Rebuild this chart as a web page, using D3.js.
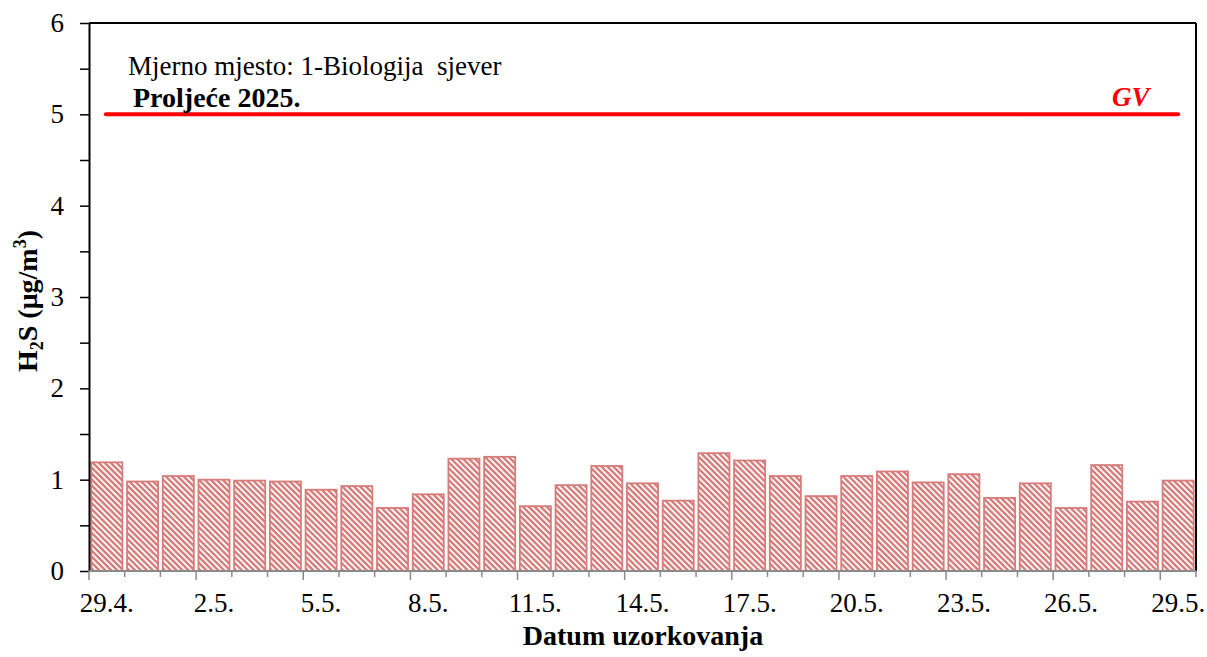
<!DOCTYPE html>
<html>
<head>
<meta charset="utf-8">
<script src="https://cdnjs.cloudflare.com/ajax/libs/d3/7.8.5/d3.min.js"></script>
<style>
  body { margin: 0; background: #fff; }
  svg text { font-family: "Liberation Serif", "DejaVu Serif", serif; }
</style>
</head>
<body>
<svg id="chart" width="1207" height="657"></svg>
<script>
// sampling days, 29.4. - 29.5.
var dates = ["29.4.", "30.4.", "1.5.", "2.5.", "3.5.", "4.5.", "5.5.", "6.5.", "7.5.", "8.5.",
  "9.5.", "10.5.", "11.5.", "12.5.", "13.5.", "14.5.", "15.5.", "16.5.", "17.5.", "18.5.",
  "19.5.", "20.5.", "21.5.", "22.5.", "23.5.", "24.5.", "25.5.", "26.5.", "27.5.", "28.5.", "29.5."];
var h2s = [1.19, 0.98, 1.04, 1.00, 0.99, 0.98, 0.89, 0.93, 0.69, 0.84,
  1.23, 1.25, 0.71, 0.94, 1.15, 0.96, 0.77, 1.29, 1.21, 1.04,
  0.82, 1.04, 1.09, 0.97, 1.06, 0.80, 0.96, 0.69, 1.16, 0.76, 0.99];
var gv = 5;
var yTicks = [0, 1, 2, 3, 4, 5, 6];
var shownDates = ["29.4.", "2.5.", "5.5.", "8.5.", "11.5.", "14.5.", "17.5.", "20.5.", "23.5.", "26.5.", "29.5."];

// plot box (window.top is taken, so own names)
var pLeft = 89, pRight = 1196, pTop = 23, pBottom = 571;
var barColor = "#d67d7b";

var svg = d3.select("#chart");

var x = d3.scaleBand().domain(dates).range([pLeft, pRight]).paddingInner(0.13).paddingOuter(0.065);
var y = d3.scaleLinear().domain([0, 6]).range([pBottom, pTop]);

// hatch fill
var defs = svg.append("defs");
var pat = defs.append("pattern")
  .attr("id", "hatch")
  .attr("patternUnits", "userSpaceOnUse")
  .attr("width", 4.2).attr("height", 4.2)
  .attr("patternTransform", "rotate(45)");
pat.append("rect").attr("width", 4.2).attr("height", 4.2).attr("fill", "#fff");
pat.append("rect").attr("width", 4.2).attr("height", 2.4).attr("fill", barColor);

// bars
svg.append("g").selectAll("rect")
  .data(h2s)
  .enter().append("rect")
  .attr("x", function(d, i) { return x(dates[i]); })
  .attr("y", function(d) { return y(d); })
  .attr("width", x.bandwidth())
  .attr("height", function(d) { return pBottom - y(d); })
  .attr("fill", "url(#hatch)")
  .attr("stroke", barColor)
  .attr("stroke-width", 1.8);

// frame top and right
svg.append("line").attr("x1", pLeft).attr("x2", pRight).attr("y1", pTop).attr("y2", pTop)
  .attr("stroke", "#000").attr("stroke-width", 2);
svg.append("line").attr("x1", pRight).attr("x2", pRight).attr("y1", pTop).attr("y2", pBottom)
  .attr("stroke", "#000").attr("stroke-width", 2);

// y axis with half-step minor ticks
var yAxis = svg.append("g").attr("transform", "translate(" + pLeft + ",0)")
  .call(d3.axisLeft(y).tickValues(d3.range(0, 6.01, 0.5)).tickSize(9).tickSizeOuter(0).tickPadding(16)
    .tickFormat(function(d) { return yTicks.indexOf(d) >= 0 ? d : ""; }));
yAxis.select(".domain").attr("stroke", "#000").attr("stroke-width", 2);
yAxis.selectAll(".tick line").attr("stroke", "#000").attr("stroke-width", 1.5);
yAxis.selectAll("text").attr("font-size", 27).attr("fill", "#000");

// x axis: ticks on band boundaries, long every third
var step = x.step();
var bounds = d3.range(dates.length + 1);
var xg = svg.append("g");
xg.append("line").attr("x1", pLeft).attr("x2", pRight).attr("y1", pBottom).attr("y2", pBottom)
  .attr("stroke", "#8a8a8a").attr("stroke-width", 2);
xg.selectAll(".xt").data(bounds).enter().append("line")
  .attr("x1", function(d) { return pLeft + d * step; })
  .attr("x2", function(d) { return pLeft + d * step; })
  .attr("y1", pBottom)
  .attr("y2", function(d) { return pBottom + (d % 3 === 0 ? 9 : 6); })
  .attr("stroke", "#8a8a8a").attr("stroke-width", 1.5);
xg.selectAll(".xl").data(shownDates).enter().append("text")
  .attr("x", function(d) { return x(d) + x.bandwidth() / 2; })
  .attr("y", 612)
  .attr("text-anchor", "middle")
  .attr("font-size", 27)
  .text(function(d) { return d; });

// limit value line
svg.append("line")
  .attr("x1", x(dates[0]) + x.bandwidth() / 2 - 1)
  .attr("x2", x(dates[dates.length - 1]) + x.bandwidth() / 2)
  .attr("y1", y(gv)).attr("y2", y(gv))
  .attr("stroke", "#ff0000").attr("stroke-width", 4).attr("stroke-linecap", "round");
svg.append("text").attr("x", 1112).attr("y", 106)
  .attr("font-size", 27).attr("font-weight", "bold").attr("font-style", "italic")
  .attr("fill", "#ff0000").text("GV");

// labels
svg.append("text").attr("x", 128).attr("y", 75).attr("font-size", 27)
  .attr("xml:space", "preserve").text("Mjerno mjesto: 1-Biologija  sjever");
svg.append("text").attr("x", 133).attr("y", 107).attr("font-size", 28).attr("font-weight", "bold")
  .text("Proljeće 2025.");

svg.append("text").attr("x", 643).attr("y", 645).attr("text-anchor", "middle")
  .attr("font-size", 28).attr("font-weight", "bold").text("Datum uzorkovanja");

var yt = svg.append("text").attr("transform", "translate(37,301) rotate(-90)")
  .attr("text-anchor", "middle").attr("font-size", 28).attr("font-weight", "bold");
yt.append("tspan").text("H");
yt.append("tspan").attr("font-size", 18).attr("dy", 6).text("2");
yt.append("tspan").attr("dy", -6).text("S (μg/m");
yt.append("tspan").attr("font-size", 18).attr("dy", -11).text("3");
yt.append("tspan").attr("dy", 11).text(")");
</script>
</body>
</html>
